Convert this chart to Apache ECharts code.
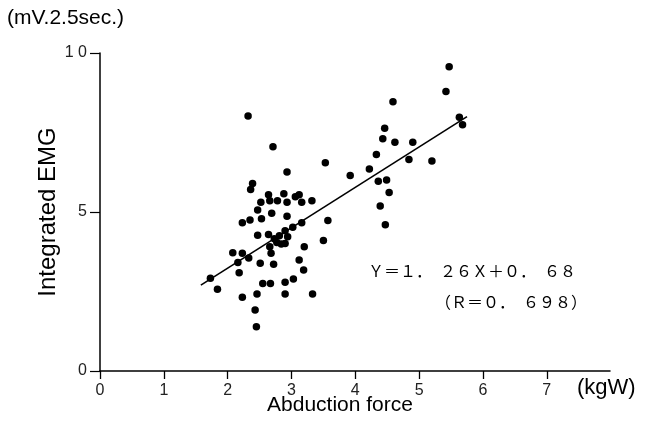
<!DOCTYPE html>
<html>
<head>
<meta charset="utf-8">
<script src="https://cdn.jsdelivr.net/npm/echarts@6/dist/echarts.min.js"></script>
<style>
html,body{margin:0;padding:0;background:#fff;}
#chart{width:657px;height:437px;}
</style>
</head>
<body>
<div id="chart"></div>
<script>
// Abduction force (kgW) of each subject
var forceX = [2.32,2.71,3.53,2.93,3.92,2.39,2.36,2.64,2.88,3.06,3.12,2.52,2.66,2.78,2.93,3.16,3.32,2.47,2.69,2.93,
              2.53,2.35,2.23,3.57,3.16,3.02,2.90,2.47,2.64,2.81,2.94,2.73,3.50,2.77,2.90,2.84,2.66,3.20,2.68,2.08,
              2.23,2.33,2.16,2.51,2.72,3.12,3.19,2.18,1.73,3.03,2.55,2.67,2.90,1.84,2.46,2.23,2.90,3.33,2.43,2.45,
              5.47,5.42,4.59,5.63,5.68,4.46,4.43,4.62,4.90,4.33,4.84,5.20,4.22,4.36,4.49,4.53,4.39,4.47];
// Integrated EMG (mV.2.5sec.)
var emgY   = [8.02,7.05,6.55,6.26,6.15,5.90,5.71,5.54,5.57,5.48,5.54,5.31,5.35,5.35,5.31,5.31,5.35,5.06,4.96,4.87,
              4.79,4.75,4.66,4.73,4.66,4.52,4.41,4.27,4.29,4.25,4.22,4.16,4.10,4.04,4.01,3.99,3.91,3.91,3.70,3.72,
              3.70,3.55,3.41,3.39,3.36,3.49,3.18,3.09,2.92,2.89,2.75,2.75,2.79,2.57,2.42,2.32,2.42,2.42,1.92,1.39,
              9.57,8.79,8.47,7.98,7.74,7.63,7.30,7.19,7.19,6.81,6.65,6.60,6.35,5.97,6.01,5.61,5.19,4.60];
// regression line end points
var fitX = [1.58, 5.75];
var fitY = [2.70, 8.00];
var yTicks = [0,5,10];
var yTickLabels = ['0','5','1 0'];
var eqLine1 = 'Ｙ＝１．\u2002２６Ｘ＋０．\u2002６８';
var eqLine2 = '（Ｒ＝０．\u2002６９８）';

var pts = forceX.map(function(x,i){return [x, emgY[i]];});
var fit = fitX.map(function(x,i){return [x, fitY[i]];});

var chart = echarts.init(document.getElementById('chart'), null, {renderer:'canvas'});
var tickFont = {fontFamily:'Liberation Sans', fontSize:16, color:'#222'};
chart.setOption({
  animation:false,
  backgroundColor:'#fff',
  grid:{left:100, right:47, top:53, bottom:66},
  xAxis:{
    type:'value', position:'bottom', min:0, max:7.99, interval:1,
    axisLine:{show:true, onZero:false, lineStyle:{color:'#000', width:1.5}},
    axisTick:{show:true, inside:false, length:8, lineStyle:{color:'#000', width:1.3}},
    axisLabel:Object.assign({margin:12, showMaxLabel:false}, tickFont),
    splitLine:{show:false}
  },
  yAxis:{
    type:'value', min:0, max:10, interval:5,
    axisLine:{show:true, onZero:false, lineStyle:{color:'#000', width:1.5}},
    axisTick:{show:true, inside:false, length:10, lineStyle:{color:'#000', width:1.2}},
    axisLabel:Object.assign({margin:13, formatter:function(v){var k=yTicks.indexOf(v);return k>=0?yTickLabels[k]:'';}}, tickFont),
    splitLine:{show:false}
  },
  graphic:[
    {type:'text', left:7, top:8, style:{text:'(mV.2.5sec.)', fontFamily:'Liberation Sans', fontSize:21, fill:'#000'}},
    {type:'text', x:48, y:212, rotation:Math.PI/2, style:{text:'Integrated EMG', fontFamily:'Liberation Sans', fontSize:24, fill:'#000', align:'center', verticalAlign:'middle'}},
    {type:'text', x:340, y:405, style:{text:'Abduction force', fontFamily:'Liberation Sans', fontSize:21, fill:'#000', align:'center', verticalAlign:'middle'}},
    {type:'text', x:577, y:388, style:{text:'(kgW)', fontFamily:'Liberation Sans', fontSize:22, fill:'#000', align:'left', verticalAlign:'middle'}},
    {type:'text', x:368, y:271, style:{text:eqLine1, fontFamily:'Noto Sans CJK JP', fontSize:16, fill:'#000', align:'left', verticalAlign:'middle'}},
    {type:'text', x:435, y:302, style:{text:eqLine2, fontFamily:'Noto Sans CJK JP', fontSize:16, fill:'#000', align:'left', verticalAlign:'middle'}}
  ],
  series:[
    {type:'scatter', data:pts, symbol:'circle', symbolSize:7.5, itemStyle:{color:'#000', opacity:1}},
    {type:'line', data:fit, symbol:'none', lineStyle:{color:'#000', width:1.6}}
  ]
});
</script>
</body>
</html>
